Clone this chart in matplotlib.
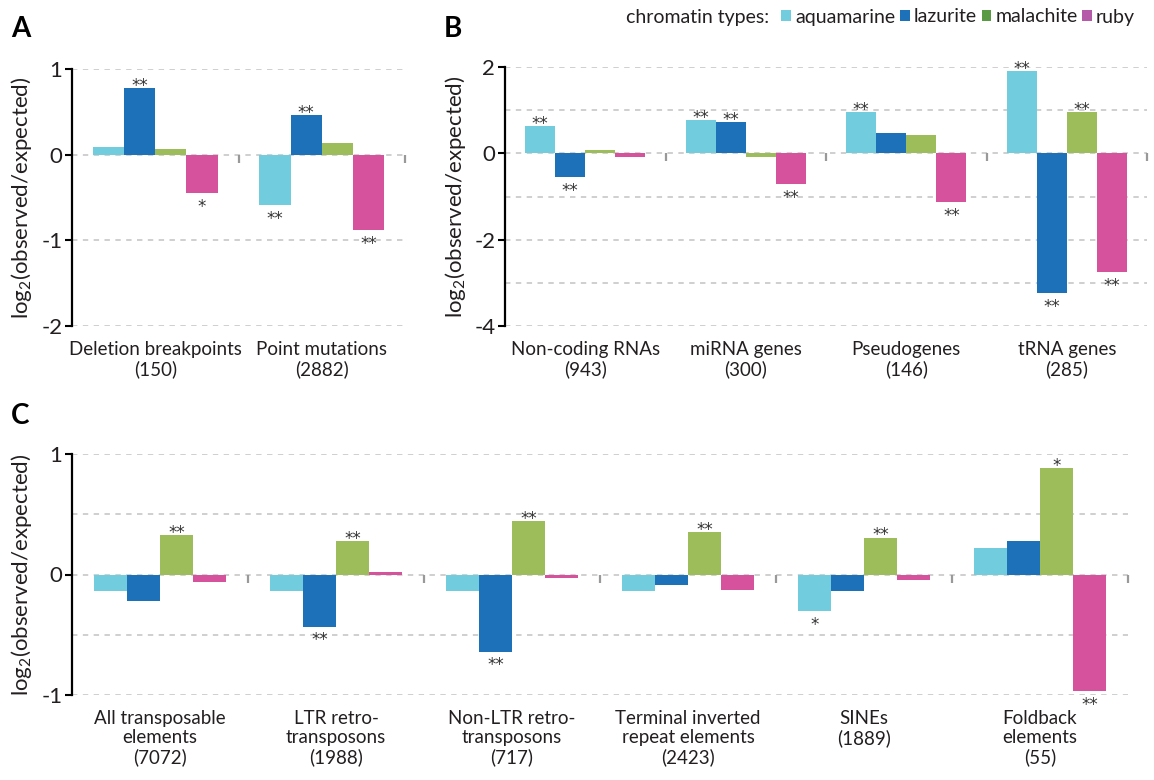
import matplotlib
matplotlib.use('Agg')
import matplotlib.pyplot as plt
import numpy as np
from matplotlib.patches import Patch
from matplotlib.lines import TICKDOWN

plt.rcParams['font.family'] = ['Lato', 'DejaVu Sans']
plt.rcParams['mathtext.fontset'] = 'custom'
plt.rcParams['mathtext.rm'] = 'Lato'
plt.rcParams['mathtext.it'] = 'Lato:italic'

# ---------------- data ----------------
series_names = ['aquamarine', 'lazurite', 'malachite', 'ruby']
bar_colors = ['#71CDDD', '#1C71B8', '#9DBD5A', '#D6529C']
legend_colors = ['#71CDDD', '#1C71B8', '#5A9A45', '#B55AA8']

# Panel A
a_categories = ['Deletion breakpoints\n(150)', 'Point mutations\n(2882)']
a_aquamarine = [0.09, -0.59]
a_lazurite = [0.78, 0.46]
a_malachite = [0.07, 0.14]
a_ruby = [-0.45, -0.885]
a_sig_aquamarine = ['', '**']
a_sig_lazurite = ['**', '**']
a_sig_malachite = ['', '']
a_sig_ruby = ['*', '**']

# Panel B
b_categories = ['Non-coding RNAs\n(943)', 'miRNA genes\n(300)',
                'Pseudogenes\n(146)', 'tRNA genes\n(285)']
b_aquamarine = [0.64, 0.78, 0.965, 1.91]
b_lazurite = [-0.54, 0.73, 0.48, -3.245]
b_malachite = [0.085, -0.077, 0.43, 0.965]
b_ruby = [-0.077, -0.72, -1.12, -2.76]
b_sig_aquamarine = ['**', '**', '**', '**']
b_sig_lazurite = ['**', '**', '', '**']
b_sig_malachite = ['', '', '', '**']
b_sig_ruby = ['', '**', '**', '**']

# Panel C
c_categories = ['All transposable\nelements\n(7072)', 'LTR retro-\ntransposons\n(1988)',
                'Non-LTR retro-\ntransposons\n(717)', 'Terminal inverted\nrepeat elements\n(2423)',
                'SINEs\n(1889)', 'Foldback\nelements\n(55)']
c_aquamarine = [-0.141, -0.141, -0.133, -0.133, -0.305, 0.224]
c_lazurite = [-0.224, -0.432, -0.64, -0.091, -0.141, 0.274]
c_malachite = [0.324, 0.274, 0.44, 0.349, 0.307, 0.88]
c_ruby = [-0.064, 0.017, -0.025, -0.125, -0.042, -0.964]
c_sig_aquamarine = ['', '', '', '', '*', '']
c_sig_lazurite = ['', '**', '**', '', '', '']
c_sig_malachite = ['**', '**', '**', '**', '**', '*']
c_sig_ruby = ['', '', '', '', '', '**']

a_major = [-2, -1, 0, 1]
a_minor = []
b_major = [-4, -2, 0, 2]
b_minor = [-3, -1, 1]
c_major = [-1, 0, 1]
c_minor = [-0.5, 0.5]

TEXT = '#231F20'
W, H = 1154, 780
fig = plt.figure(figsize=(W / 100, H / 100), dpi=100)


def px_axes(left, top, right, bottom):
    return fig.add_axes([left / W, 1 - bottom / H, (right - left) / W, (bottom - top) / H])


def draw_panel(ax, cats, vals, sigs, ylim, major, minor):
    n = len(cats)
    x = np.arange(n)
    w = 0.1875
    ax.set_axisbelow(True)
    for i, (v, s) in enumerate(zip(vals, sigs)):
        xs = x + (i - 1.5) * w
        ax.bar(xs, v, w, color=bar_colors[i], linewidth=0, zorder=3)
        for xi, vi, si in zip(xs, v, s):
            if not si:
                continue
            if vi >= 0:
                ax.annotate(si, (xi, vi), xytext=(0, -5), textcoords='offset points',
                            ha='center', va='bottom', fontsize=12, color='#333333',
                            family='DejaVu Sans', zorder=4)
            else:
                ax.annotate(si, (xi, vi), xytext=(0, -3.5), textcoords='offset points',
                            ha='center', va='top', fontsize=12, color='#333333',
                            family='DejaVu Sans', zorder=4)
    ax.set_xlim(-0.5, n - 0.5)
    ax.set_ylim(*ylim)
    ax.set_yticks(major)
    ax.set_yticklabels([str(m) for m in major])
    ax.set_yticks(minor, minor=True)
    ax.yaxis.grid(True, which='both', linestyle=(0, (3, 3)), color='#CCCCCC', linewidth=1.3)
    ax.tick_params(axis='y', which='major', length=5, width=1.5, color='black',
                   labelsize=16, labelcolor=TEXT, pad=2)
    ax.tick_params(axis='y', which='minor', length=0)
    ax.set_xticks(x)
    ax.set_xticklabels(cats, fontsize=13.5, color=TEXT, linespacing=1.15)
    ax.tick_params(axis='x', length=0, pad=11)
    for sp in ['top', 'right', 'bottom']:
        ax.spines[sp].set_visible(False)
    ax.spines['left'].set_linewidth(1.6)
    ax.spines['left'].set_color('black')
    bounds = np.arange(n) + 0.5
    ax.plot(bounds, np.zeros(n), linestyle='none', marker=TICKDOWN, markersize=6,
            markeredgewidth=1.6, color='#999999', clip_on=False, zorder=2)


axA = px_axes(72, 69, 405, 326)
draw_panel(axA, a_categories, [a_aquamarine, a_lazurite, a_malachite, a_ruby],
           [a_sig_aquamarine, a_sig_lazurite, a_sig_malachite, a_sig_ruby],
           (-2, 1), a_major, a_minor)

axB = px_axes(505, 67, 1147, 326)
draw_panel(axB, b_categories, [b_aquamarine, b_lazurite, b_malachite, b_ruby],
           [b_sig_aquamarine, b_sig_lazurite, b_sig_malachite, b_sig_ruby],
           (-4, 2), b_major, b_minor)

axC = px_axes(72, 454, 1128, 695)
draw_panel(axC, c_categories, [c_aquamarine, c_lazurite, c_malachite, c_ruby],
           [c_sig_aquamarine, c_sig_lazurite, c_sig_malachite, c_sig_ruby],
           (-1, 1), c_major, c_minor)

ylab = 'log$_2$(observed/expected)'
fig.text(22 / W, 1 - 198 / H, ylab, rotation=90, ha='center', va='center', fontsize=16, color=TEXT)
fig.text(455 / W, 1 - 197 / H, ylab, rotation=90, ha='center', va='center', fontsize=16, color=TEXT)
fig.text(22 / W, 1 - 575 / H, ylab, rotation=90, ha='center', va='center', fontsize=16, color=TEXT)

for lab, (lx, ly) in zip(['A', 'B', 'C'], [(11, 29), (444, 29), (11, 416)]):
    fig.text(lx / W, 1 - ly / H, lab, fontsize=20, fontweight='bold', ha='left', va='center', color='black')

handles = [Patch(facecolor=c, edgecolor='none') for c in legend_colors]
leg = fig.legend(handles, series_names, loc='center right', bbox_to_anchor=(1135 / W, 1 - 17 / H),
                 ncol=4, frameon=False, fontsize=14, handlelength=0.5, handleheight=0.5,
                 handletextpad=0.2, columnspacing=0.25, borderpad=0, borderaxespad=0,
                 labelcolor=TEXT)
fig.canvas.draw()
bb = leg.get_window_extent()
fig.text((bb.x0 - 12) / W, 1 - 17 / H, 'chromatin types:', fontsize=14, ha='right',
         va='center', color=TEXT)

fig.savefig('out.png', dpi=100)
